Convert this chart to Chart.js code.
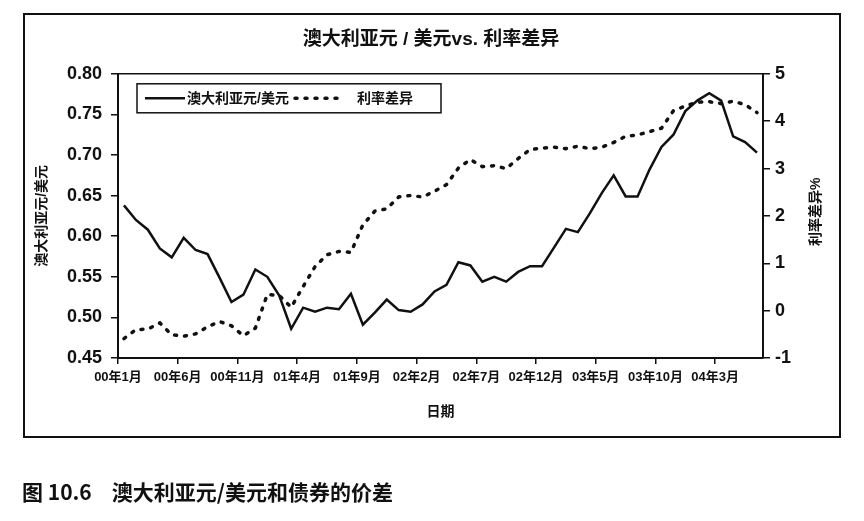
<!DOCTYPE html>
<html>
<head>
<meta charset="utf-8">
<script src="https://cdn.jsdelivr.net/npm/chart.js@4.4.1/dist/chart.umd.min.js"></script>
<style>
    body { margin: 0; background: #fff; }
    #wrap { position: relative; width: 864px; height: 521px; }
    #caption {
        position: absolute; left: 22px; top: 478px;
        font-family: "Noto Sans CJK SC", sans-serif; font-weight: 700;
        font-size: 21px; line-height: 26px; color: #111; white-space: nowrap;
    }
    #caption span { margin-left: 20px; }
</style>
</head>
<body>
<div id="wrap">
    <canvas id="myChart" width="864" height="521"></canvas>
    <div id="caption">图 10.6<span>澳大利亚元/美元和债券的价差</span></div>
</div>
<script>
const months = [
    '00年1月', '00年2月', '00年3月', '00年4月', '00年5月', '00年6月', '00年7月', '00年8月', '00年9月', '00年10月', '00年11月', '00年12月',
    '01年1月', '01年2月', '01年3月', '01年4月', '01年5月', '01年6月', '01年7月', '01年8月', '01年9月', '01年10月', '01年11月', '01年12月',
    '02年1月', '02年2月', '02年3月', '02年4月', '02年5月', '02年6月', '02年7月', '02年8月', '02年9月', '02年10月', '02年11月', '02年12月',
    '03年1月', '03年2月', '03年3月', '03年4月', '03年5月', '03年6月', '03年7月', '03年8月', '03年9月', '03年10月', '03年11月', '03年12月',
    '04年1月', '04年2月', '04年3月', '04年4月', '04年5月', '04年6月'
];

// 澳大利亚元/美元 (左轴)
const audUsd = [
    0.638, 0.620, 0.608, 0.585, 0.574, 0.598, 0.583, 0.578, 0.549, 0.519,
    0.528, 0.559, 0.550, 0.527, 0.486, 0.512, 0.507, 0.512, 0.510, 0.529,
    0.491, 0.506, 0.522, 0.509, 0.507, 0.516, 0.532, 0.540, 0.568, 0.564,
    0.544, 0.550, 0.544, 0.556, 0.563, 0.563, 0.586, 0.609, 0.605, 0.628,
    0.653, 0.675, 0.649, 0.649, 0.682, 0.710, 0.725, 0.754, 0.767, 0.776,
    0.767, 0.723, 0.716, 0.703
];

// 利率差异 % (右轴)
const rateDiff = [
    -0.59, -0.40, -0.39, -0.26, -0.51, -0.54, -0.49, -0.34, -0.23, -0.32,
    -0.53, -0.37, 0.34, 0.32, 0.07, 0.51, 0.93, 1.18, 1.25, 1.23,
    1.81, 2.10, 2.15, 2.40, 2.43, 2.40, 2.52, 2.66, 3.01, 3.19,
    3.04, 3.06, 3.00, 3.21, 3.40, 3.43, 3.45, 3.42, 3.47, 3.42,
    3.45, 3.55, 3.68, 3.71, 3.78, 3.85, 4.22, 4.32, 4.40, 4.41,
    4.37, 4.42, 4.35, 4.18
];

const FONT = '"Liberation Sans", "Noto Sans CJK SC", sans-serif';
const tickEvery = 5;

// 外框、绘图区边框、图例、右轴标题
const decorPlugin = {
    id: 'decor',
    beforeDraw(chart) {
        const ctx = chart.ctx;
        ctx.save();
        ctx.strokeStyle = '#111';
        ctx.lineWidth = 2;
        ctx.strokeRect(24, 14, 816, 423);
        ctx.restore();
    },
    afterDraw(chart) {
        const ctx = chart.ctx;
        const a = chart.chartArea;
        ctx.save();
        ctx.strokeStyle = '#111';
        ctx.lineWidth = 1.5;
        ctx.beginPath();
        ctx.moveTo(a.left, a.top);
        ctx.lineTo(a.right, a.top);
        ctx.stroke();

        // legend
        const lx = a.left + 19, ly = a.top + 10, lw = 304, lh = 29;
        ctx.fillStyle = '#fff';
        ctx.fillRect(lx, ly, lw, lh);
        ctx.lineWidth = 1.5;
        ctx.strokeRect(lx, ly, lw, lh);
        const cy = ly + lh / 2;
        const items = [
            { x0: lx + 8, x1: lx + 48, tx: lx + 50 },
            { x0: lx + 158, x1: lx + 202, tx: lx + 220 }
        ];
        chart.data.datasets.forEach((ds, i) => {
            const it = items[i];
            ctx.save();
            ctx.strokeStyle = ds.borderColor;
            ctx.lineWidth = ds.borderWidth;
            ctx.lineCap = ds.borderCapStyle || 'butt';
            ctx.setLineDash(ds.borderDash || []);
            ctx.beginPath();
            ctx.moveTo(it.x0, cy);
            ctx.lineTo(it.x1, cy);
            ctx.stroke();
            ctx.restore();
            ctx.fillStyle = '#111';
            ctx.font = 'bold 14px ' + FONT;
            ctx.textBaseline = 'middle';
            ctx.textAlign = 'left';
            ctx.fillText(ds.label, it.tx, cy + 1);
        });

        // right axis title, reading bottom to top
        ctx.translate(816, (a.top + a.bottom) / 2 - 4);
        ctx.rotate(-Math.PI / 2);
        ctx.font = 'bold 14px ' + FONT;
        ctx.textAlign = 'center';
        ctx.textBaseline = 'middle';
        ctx.fillStyle = '#111';
        ctx.fillText('利率差异%', 0, 0);
        ctx.restore();
    }
};

const ctx = document.getElementById('myChart').getContext('2d');
const myChart = new Chart(ctx, {
    type: 'line',
    data: {
        labels: months,
        datasets: [{
            label: '澳大利亚元/美元',
            data: audUsd,
            yAxisID: 'y',
            borderColor: '#111',
            borderWidth: 2.5,
            pointRadius: 0,
            tension: 0
        }, {
            label: '利率差异',
            data: rateDiff,
            yAxisID: 'y1',
            borderColor: '#111',
            borderWidth: 3.5,
            borderDash: [2, 8],
            borderCapStyle: 'round',
            pointRadius: 0,
            tension: 0
        }]
    },
    options: {
        responsive: false,
        animation: false,
        layout: { padding: { left: 28, right: 30, top: 14, bottom: 84 } },
        plugins: {
            legend: { display: false },
            tooltip: { enabled: false },
            title: {
                display: true,
                text: '澳大利亚元 / 美元vs. 利率差异',
                color: '#111',
                font: { family: FONT, size: 19, weight: 'bold' },
                padding: { top: 14, bottom: 23 }
            }
        },
        scales: {
            x: {
                offset: true,
                afterFit: (s) => { s.height = 79; },
                grid: {
                    offset: true,
                    drawOnChartArea: false,
                    tickLength: 6,
                    lineWidth: 1.5,
                    color: (c) => c.index % tickEvery === 0 ? '#111' : 'rgba(0,0,0,0)'
                },
                border: { color: '#111', width: 2 },
                ticks: {
                    autoSkip: false,
                    maxRotation: 0,
                    padding: 6,
                    labelOffset: -6,
                    color: '#111',
                    font: { family: FONT, size: 13, weight: 'bold' },
                    callback: function (v, i) { return i % tickEvery === 0 ? this.getLabelForValue(v) : ''; }
                },
                title: {
                    display: true,
                    text: '日期',
                    color: '#111',
                    font: { family: FONT, size: 14, weight: 'bold' },
                    padding: { top: 0, bottom: 16 }
                }
            },
            y: {
                position: 'left',
                min: 0.45,
                max: 0.80,
                afterFit: (s) => { s.width = 90; },
                grid: { drawOnChartArea: false, tickLength: 7, color: '#111', lineWidth: 1.5 },
                border: { color: '#111', width: 2 },
                ticks: {
                    stepSize: 0.05,
                    padding: 9,
                    color: '#111',
                    font: { family: FONT, size: 18, weight: 'bold' },
                    callback: (v) => v.toFixed(2)
                },
                title: {
                    display: true,
                    text: '澳大利亚元/美元',
                    color: '#111',
                    font: { family: FONT, size: 14, weight: 'bold' },
                    padding: { top: 6, bottom: 0 }
                }
            },
            y1: {
                position: 'right',
                min: -1,
                max: 5,
                afterFit: (s) => { s.width = 71; },
                grid: { drawOnChartArea: false, tickLength: 7, color: '#111', lineWidth: 1.5 },
                border: { color: '#111', width: 2 },
                ticks: {
                    stepSize: 1,
                    padding: 5,
                    color: '#111',
                    font: { family: FONT, size: 18, weight: 'bold' }
                }
            }
        }
    },
    plugins: [decorPlugin]
});
</script>
</body>
</html>
